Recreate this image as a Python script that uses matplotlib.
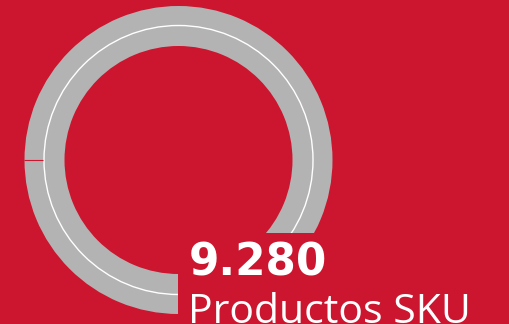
import matplotlib.pyplot as plt
from matplotlib.patches import Circle, Rectangle

# data
valor = "9.280"
etiqueta = "Productos SKU"
porciones = [100]

fondo = "#CC152E"
gris = "#B3B3B3"

fig = plt.figure(figsize=(5.10, 3.24), dpi=100)
fig.patch.set_facecolor(fondo)
ax = fig.add_axes([0, 0, 1, 1])
ax.set_facecolor(fondo)

# anillo
ax.pie(porciones, colors=[gris], center=(178.5, 160), radius=154,
       wedgeprops=dict(width=40, linewidth=0), frame=True)
ax.set_xlim(0, 510)
ax.set_ylim(324, 0)
ax.set_aspect("equal")
ax.axis("off")
ax.add_patch(Circle((178.5, 160), 134.5, fill=False, edgecolor="white", linewidth=1.0))
ax.plot([24, 43], [160, 160], color=fondo, linewidth=0.8, solid_capstyle="butt")

# recorte detrás del texto
ax.add_patch(Rectangle((178.5, 233), 340, 100, facecolor=fondo, edgecolor="none", zorder=3))

ax.text(189, 275.5, valor, color="white", fontsize=31.5, fontweight="bold",
        family="DejaVu Sans", ha="left", va="baseline", zorder=4)
ax.text(188, 323, etiqueta, color="white", fontsize=29.5,
        family="Open Sans", ha="left", va="baseline", zorder=4)

fig.savefig("out.png", dpi=100, facecolor=fondo)
